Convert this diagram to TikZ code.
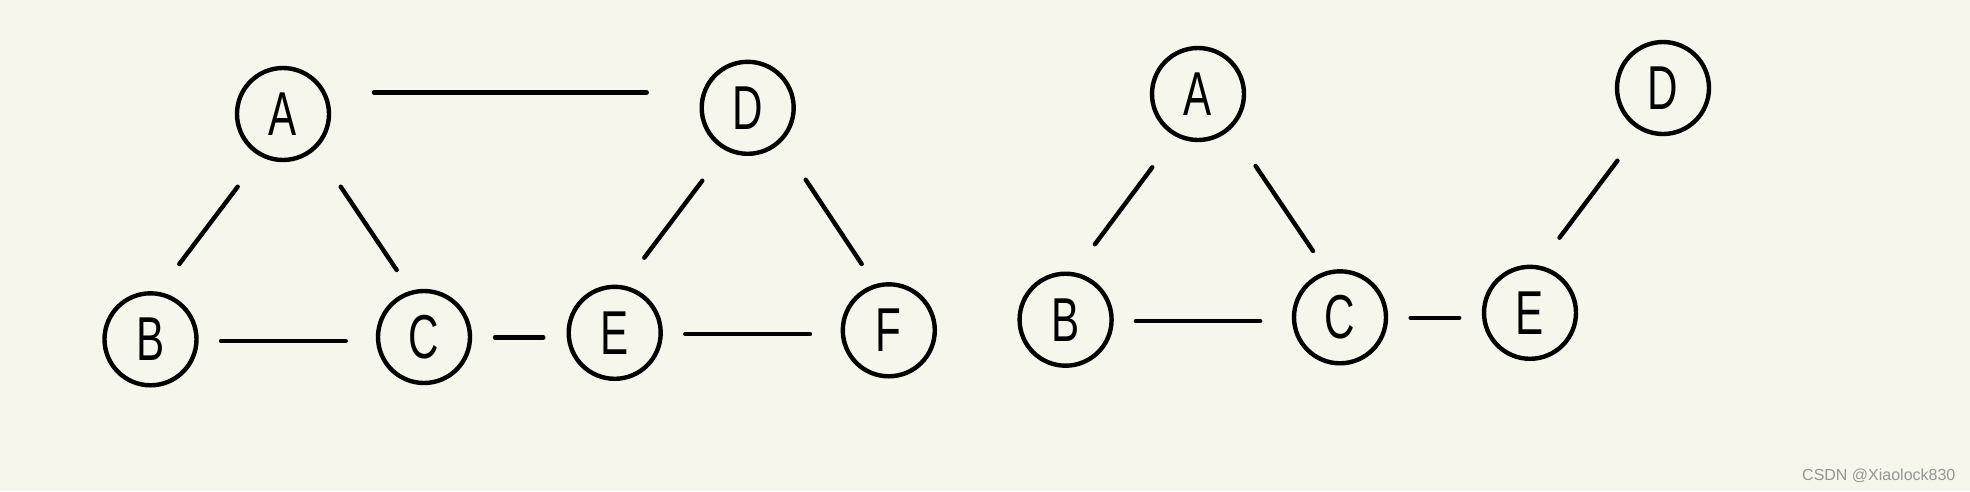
\documentclass[tikz,border=0pt]{standalone}
\usepackage{fontspec}
\newfontfamily\handfont[FakeStretch=0.68]{Liberation Sans}
\newfontfamily\markfont{Liberation Sans}
\definecolor{paper}{RGB}{246,246,236}
\definecolor{ink}{RGB}{0,0,0}
\definecolor{markgray}{RGB}{150,150,150}
\begin{document}
\begin{tikzpicture}[x=1pt,y=-1pt,
  vertex/.style={circle,draw=ink,line width=4.4pt,minimum size=92pt,inner sep=0pt,
    font=\handfont\fontsize{62}{62}\selectfont},
  edge/.style={draw=ink,line width=4.4pt,line cap=round}]
\fill[paper] (0,0) rectangle (1970,491);
\useasboundingbox (0,0) rectangle (1970,491);
% left graph
\node[vertex] (A) at (283,114) {A};
\node[vertex] (D) at (747.7,107.8) {D};
\node[vertex] (B) at (150.5,339.3) {B};
\node[vertex] (C) at (424,337) {C};
\node[vertex] (E) at (614.7,332.8) {E};
\node[vertex] (F) at (888.8,330.3) {F};
\coordinate (ad1) at (374,92.3);   \coordinate (ad2) at (646.7,92.3);
\coordinate (ab1) at (237.7,186.7); \coordinate (ab2) at (179.3,264);
\coordinate (ac1) at (340.7,186.7); \coordinate (ac2) at (396.7,270);
\coordinate (bc1) at (221,341);     \coordinate (bc2) at (345.7,341);
\coordinate (ce1) at (495,337.3);   \coordinate (ce2) at (543.3,337.3);
\coordinate (ef1) at (685.3,334);   \coordinate (ef2) at (810,334);
\coordinate (de1) at (702.3,180.7); \coordinate (de2) at (644.3,257.7);
\coordinate (df1) at (805.7,179.7); \coordinate (df2) at (861.7,264);
\draw[edge] (ad1) -- (ad2);
\draw[edge] (ab1) -- (ab2);
\draw[edge] (ac1) -- (ac2);
\draw[edge] (bc1) -- (bc2);
\draw[edge] (ce1) -- (ce2);
\draw[edge] (ef1) -- (ef2);
\draw[edge] (de1) -- (de2);
\draw[edge] (df1) -- (df2);
% right graph
\node[vertex] (A2) at (1198,94) {A};
\node[vertex] (D2) at (1663,88) {D};
\node[vertex] (B2) at (1065.6,319.7) {B};
\node[vertex] (C2) at (1340,317.3) {C};
\node[vertex] (E2) at (1530,312.8) {E};
\coordinate (rab1) at (1152.3,167.3); \coordinate (rab2) at (1094.9,244.3);
\coordinate (rac1) at (1255.6,166);   \coordinate (rac2) at (1313,251);
\coordinate (rbc1) at (1135.9,321);   \coordinate (rbc2) at (1260.2,321);
\coordinate (rce1) at (1410.6,317.7); \coordinate (rce2) at (1459.2,317.7);
\coordinate (red1) at (1559.5,237.7); \coordinate (red2) at (1617.4,160.7);
\draw[edge] (rab1) -- (rab2);
\draw[edge] (rac1) -- (rac2);
\draw[edge] (rbc1) -- (rbc2);
\draw[edge] (rce1) -- (rce2);
\draw[edge] (red1) -- (red2);
% watermark
\node[anchor=base west,inner sep=0pt,text=markgray,font=\markfont\fontsize{16}{16}\selectfont] (wm) at (1802,480.7) {CSDN @Xiaolock830};
\end{tikzpicture}
\end{document}
